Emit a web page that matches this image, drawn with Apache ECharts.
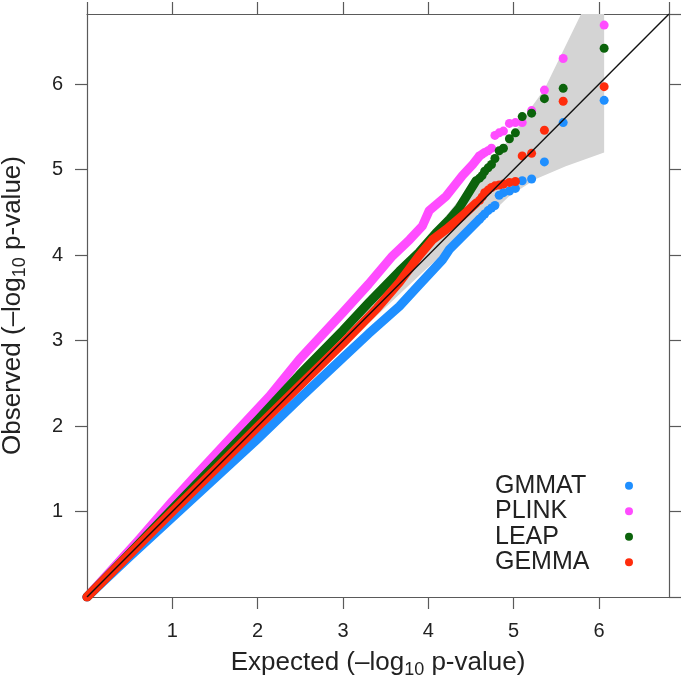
<!DOCTYPE html>
<html>
<head>
<meta charset="utf-8">
<title>QQ plot</title>
<script src="https://cdn.jsdelivr.net/npm/echarts@6/dist/echarts.min.js"></script>
<style>
  html, body { margin: 0; padding: 0; background: #fff; }
  #qq { width: 685px; height: 690px; }
</style>
</head>
<body>
<div id="qq"></div>
<script>
// axis range (expected / observed -log10 p)
var axisMax = 6.82;
var tickValues = [1, 2, 3, 4, 5, 6];

var names = ['GMMAT', 'PLINK', 'LEAP', 'GEMMA'];
var colors = ['#1f8fff', '#ff4cff', '#0b630b', '#ff2c0c'];

// dense part of each curve [expected, observed]
var gmmatLine = [[0, 0], [0.5, 0.47], [1, 0.93], [1.5, 1.39], [2, 1.85], [2.5, 2.33], [3, 2.8], [3.3, 3.08], [3.66, 3.4], [3.9, 3.66], [4.17, 3.95], [4.25, 4.07], [4.44, 4.26], [4.6, 4.42]];
var plinkLine = [[0, 0], [0.3, 0.33], [0.6, 0.66], [1, 1.12], [1.32, 1.47], [1.7, 1.88], [2.14, 2.35], [2.49, 2.78], [3, 3.33], [3.3, 3.66], [3.58, 3.99], [3.78, 4.18], [3.93, 4.34], [4.01, 4.52], [4.21, 4.69], [4.4, 4.93], [4.52, 5.06], [4.6, 5.16]];
var leapLine = [[0, 0], [0.5, 0.51], [1, 1.03], [1.5, 1.55], [2, 2.07], [2.49, 2.6], [3, 3.12], [3.3, 3.44], [3.66, 3.81], [3.89, 4.03], [4.09, 4.26], [4.25, 4.42], [4.36, 4.55], [4.46, 4.71], [4.56, 4.87]];
var gemmaLine = [[0, 0], [0.5, 0.5], [1, 1], [1.5, 1.49], [2, 1.99], [2.5, 2.48], [3, 2.97], [3.4, 3.38], [3.66, 3.68], [3.89, 3.99], [4.05, 4.18], [4.21, 4.3], [4.4, 4.46], [4.56, 4.61]];

// separate top points
var tailX = [6.06, 5.58, 5.36, 5.21, 5.10, 5.02, 4.95, 4.88, 4.83, 4.78, 4.74, 4.70, 4.66, 4.63, 4.60];
var gmmatTail = [5.81, 5.55, 5.09, 4.89, 4.87, 4.78, 4.75, 4.73, 4.70, 4.58, 4.55, 4.52, 4.48, 4.45, 4.42];
var plinkTail = [6.69, 6.30, 5.93, 5.69, 5.55, 5.55, 5.54, 5.45, 5.43, 5.40, 5.25, 5.22, 5.20, 5.18, 5.16];
var leapTail = [6.42, 5.95, 5.83, 5.66, 5.62, 5.43, 5.36, 5.25, 5.22, 5.13, 5.06, 5.02, 4.98, 4.93, 4.90];
var gemmaTail = [5.97, 5.80, 5.46, 5.19, 5.16, 4.86, 4.85, 4.83, 4.82, 4.81, 4.79, 4.76, 4.73, 4.68, 4.64];

// confidence band edges
var bandLower = [[0, 0], [1, 0.98], [2, 1.95], [3, 2.92], [4, 3.86], [4.5, 4.3], [4.79, 4.54], [4.95, 4.69], [5.26, 4.89], [5.61, 5.04], [6.06, 5.2]];
var bandUpper = [[6.06, 6.82], [5.79, 6.82], [5.36, 5.94], [5.18, 5.69], [5.0, 5.42], [4.5, 4.82], [4, 4.2], [3, 3.1], [2, 2.05], [1, 1.02], [0, 0]];

var lines = [gmmatLine, plinkLine, leapLine, gemmaLine];
var tails = [gmmatTail, plinkTail, leapTail, gemmaTail];

var font = "'Liberation Sans', Arial, sans-serif";
var axisColor = '#5a5a5a';

function pairs(xs, ys) {
	return xs.map(function (x, i) { return [x, ys[i]]; });
}

var titleRich = {
	t: { fontSize: 26, lineHeight: 32, color: '#222', fontFamily: font },
	s: { fontSize: 18, lineHeight: 18, color: '#222', fontFamily: font, verticalAlign: 'bottom' }
};

function axisBase(pos, labels) {
	return {
		type: 'value',
		position: pos,
		min: 0,
		max: axisMax,
		interval: 1,
		axisLine: { show: true, onZero: false, lineStyle: { color: axisColor, width: 1.2 } },
		axisTick: { show: true, inside: false, length: 12, lineStyle: { color: axisColor, width: 1.2 } },
		axisLabel: {
			show: labels,
			showMinLabel: false,
			showMaxLabel: false,
			fontSize: 20,
			color: '#222',
			fontFamily: font,
			margin: 24,
			formatter: function (v) {
				return tickValues.indexOf(v) >= 0 ? String(v) : '';
			}
		},
		splitLine: { show: false }
	};
}

var xBottom = axisBase('bottom', true);
xBottom.name = '{t|Expected (\u2013log}{s|10}{t| p-value)}';
xBottom.nameLocation = 'middle';
xBottom.nameGap = 50;
xBottom.nameTextStyle = { rich: titleRich };

var yLeft = axisBase('left', true);
yLeft.name = '{t|Observed (\u2013log}{s|10}{t| p-value)}';
yLeft.nameLocation = 'middle';
yLeft.nameGap = 58;
yLeft.nameTextStyle = { rich: titleRich };

var series = [];

series.push({
	name: 'band',
	type: 'custom',
	silent: true,
	z: 1,
	data: [[0, 0]],
	renderItem: function (params, api) {
		if (params.dataIndex !== 0) return;
		var pts = [];
		bandLower.forEach(function (p) { pts.push(api.coord(p)); });
		bandUpper.forEach(function (p) { pts.push(api.coord(p)); });
		return { type: 'polygon', shape: { points: pts }, style: { fill: '#d4d4d4' } };
	}
});

names.forEach(function (n, i) {
	series.push({
		name: n,
		type: 'line',
		z: 2,
		showSymbol: false,
		data: lines[i],
		itemStyle: { color: colors[i] },
		lineStyle: { color: colors[i], width: 9, cap: 'round', join: 'round' }
	});
	series.push({
		name: n,
		type: 'scatter',
		z: 2,
		symbolSize: 9,
		data: pairs(tailX, tails[i]),
		itemStyle: { color: colors[i], opacity: 1 }
	});
});

series.push({
	name: 'diagonal',
	type: 'line',
	z: 3,
	showSymbol: false,
	silent: true,
	data: [[0, 0], [axisMax, axisMax]],
	lineStyle: { color: '#111', width: 1.4 }
});

var legendText = { fontSize: 25, lineHeight: 25.5, color: '#222', fontFamily: font };

var myChart = echarts.init(document.getElementById('qq'));

option = {
	animation: false,
	backgroundColor: '#fff',
	grid: { left: 87, top: 14, right: 16, bottom: 93, containLabel: false, outerBoundsMode: 'none' },
	legend: [{
		// labels
		data: names,
		orient: 'vertical',
		left: 485,
		top: 468,
		icon: 'circle',
		itemWidth: 0,
		itemHeight: 0,
		itemGap: 0,
		selectedMode: false,
		textStyle: legendText
	}, {
		// coloured dots
		data: names,
		orient: 'vertical',
		left: 620,
		top: 468,
		icon: 'circle',
		itemWidth: 8,
		itemHeight: 8,
		itemGap: 0,
		selectedMode: false,
		formatter: function () { return ' '; },
		textStyle: legendText
	}],
	xAxis: [xBottom, axisBase('top', false)],
	yAxis: [yLeft, axisBase('right', false)],
	series: series
};

myChart.setOption(option);
</script>
</body>
</html>
